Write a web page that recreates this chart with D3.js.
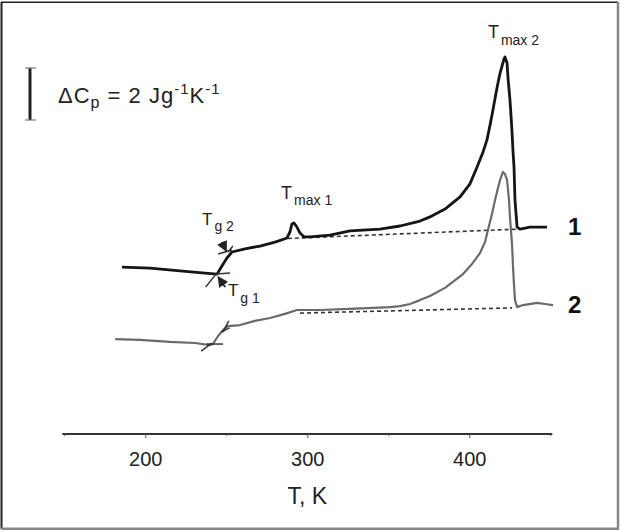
<!DOCTYPE html>
<html>
<head>
<meta charset="utf-8">
<script src="https://cdn.jsdelivr.net/npm/d3@7"></script>
<style>
  html, body { margin: 0; padding: 0; background: #fff; }
  svg { display: block; font-family: "Liberation Sans", Arial, sans-serif; }
</style>
</head>
<body>
<svg id="chart" width="620" height="531"></svg>
<script>
// ---- Data (T in K, ΔCp in J g^-1 K^-1 with arbitrary vertical offset) ----
const curve1T = [185.6, 202.9, 221.4, 236.9, 244.3, 247.3, 250.4, 253.5, 261.5, 270.8, 280.1, 287.5,
  289.3, 290.5, 291.7, 293.6, 295.5, 298.0, 301.7, 314.0, 326.4, 344.9, 357.2, 369.6, 375.7, 385.0, 394.3,
  400.4, 404.8, 408.5, 410.9, 412.8, 414.6, 416.5, 417.7, 419.0, 420.2, 421.4, 422.0, 423.3, 423.9,
  425.1, 425.8, 426.4, 427.0, 427.6, 428.2, 429.5, 431.3, 437.5, 448.0];
const curve1Cp = [6.42, 6.38, 6.27, 6.19, 6.15, 6.46, 6.77, 7.00, 7.12, 7.23, 7.38, 7.54,
  7.77, 8.08, 8.12, 7.96, 7.73, 7.58, 7.58, 7.65, 7.81, 7.88, 8.00, 8.19, 8.35, 8.65, 9.12,
  9.62, 10.27, 10.85, 11.31, 11.88, 12.46, 13.12, 13.50, 13.88, 14.15, 14.42, 14.50, 14.27, 13.69,
  12.85, 12.20, 11.58, 10.85, 10.27, 9.00, 7.96, 7.88, 7.96, 7.96];

const curve2T = [181.4, 196.7, 215.2, 230.7, 239.9, 241.8, 244.9, 248.6, 251.0, 258.5, 267.7, 277.0,
  286.2, 293.6, 307.8, 326.4, 351.1, 357.2, 363.4, 369.6, 375.7, 385.0, 396.1, 401.7, 406.6, 409.7,
  411.5, 414.0, 415.9, 417.7, 419.0, 420.8, 422.0, 423.3, 424.5, 425.1, 426.4, 427.0, 427.6, 428.2,
  429.5, 433.2, 441.8, 446.7, 451.7];
const curve2Cp = [3.65, 3.62, 3.54, 3.50, 3.42, 3.46, 3.77, 4.04, 4.15, 4.19, 4.35, 4.46,
  4.62, 4.77, 4.77, 4.81, 4.88, 4.92, 5.00, 5.15, 5.31, 5.62, 6.15, 6.54, 6.96, 7.38,
  7.85, 8.46, 9.00, 9.46, 9.77, 10.08, 10.00, 9.77, 9.00, 8.35, 7.27, 6.42, 5.73, 5.15,
  4.88, 4.96, 5.04, 5.00, 4.96];

// dashed baselines [T, Cp]
const base1 = [[288.0, 7.52], [429.5, 7.88]];
const base2 = [[295.5, 4.65], [426.4, 4.85]];

// tangent construction segments [[T1,Cp1],[T2,Cp2]]
const tangents = [
  [[237.2, 5.65], [243.7, 6.15]],
  [[243.7, 6.15], [252.3, 6.19]],
  [[251.0, 7.00], [254.1, 7.23]],
  [[245.0, 6.92], [253.5, 7.08]],
  [[234.5, 3.19], [241.2, 3.50]],
  [[238.0, 3.46], [248.0, 3.46]],
  [[246.8, 3.92], [252.0, 4.08]],
  [[248.0, 3.92], [251.5, 4.35]]
];
// arrows [[from],[to]]
const arrows = [
  [[247.3, 7.38], [250.0, 7.04]],
  [[249.3, 5.65], [245.0, 6.04]]
];

const xTicks = [150, 200, 250, 300, 350, 400, 450];
const xTickLabels = ["", "200", "", "300", "", "400", ""];
const xTitle = "T, K";
const scaleBarCp = 2;

// ---- Scales ----
const svg = d3.select("#chart");
const x = d3.scaleLinear().domain([150, 450]).range([64.3, 550.3]);
const y = d3.scaleLinear().domain([0, 16]).range([434, 18]);

// frame
svg.append("line").attr("x1", 1.5).attr("y1", 2).attr("x2", 1.5).attr("y2", 529).attr("stroke", "#222").attr("stroke-width", 2);
svg.append("line").attr("x1", 1).attr("y1", 2.2).attr("x2", 618).attr("y2", 2.2).attr("stroke", "#222").attr("stroke-width", 1.6);
svg.append("line").attr("x1", 618).attr("y1", 2).attr("x2", 618).attr("y2", 529).attr("stroke", "#888").attr("stroke-width", 2.5);
svg.append("line").attr("x1", 1).attr("y1", 528.8).attr("x2", 619).attr("y2", 528.8).attr("stroke", "#888").attr("stroke-width", 2.5);

// ---- Axis ----
const axis = d3.axisBottom(x)
  .tickValues(xTicks)
  .tickFormat((d, i) => xTickLabels[i])
  .tickSize(4)
  .tickSizeOuter(0)
  .tickPadding(14);
const gAx = svg.append("g").attr("transform", `translate(0,${y(0)})`).call(axis);
gAx.select(".domain").attr("stroke", "#333").attr("stroke-width", 2).attr("d", `M${x(150) - 2},0H${x(450) + 2}`);
gAx.selectAll(".tick line").attr("stroke", "#555").attr("stroke-width", 1)
  .attr("y2", (d, i) => xTickLabels[i] ? 4 : 2);
gAx.selectAll(".tick text").attr("font-size", 20).attr("fill", "#222")
  .attr("font-family", "Liberation Sans, Arial, sans-serif");
svg.append("text").attr("x", x(300)).attr("y", 504).attr("text-anchor", "middle")
  .attr("font-size", 23).attr("fill", "#222").text(xTitle);

// ---- Curves ----
const line = d3.line().x(d => x(d[0])).y(d => y(d[1])).curve(d3.curveLinear);
const c1 = curve1T.map((t, i) => [t, curve1Cp[i]]);
const c2 = curve2T.map((t, i) => [t, curve2Cp[i]]);

svg.append("path").datum(base1).attr("d", line).attr("fill", "none")
  .attr("stroke", "#333").attr("stroke-width", 1.6).attr("stroke-dasharray", "4,3");
svg.append("path").datum(base2).attr("d", line).attr("fill", "none")
  .attr("stroke", "#333").attr("stroke-width", 1.6).attr("stroke-dasharray", "4,3");

svg.append("path").datum(c2).attr("d", line).attr("fill", "none")
  .attr("stroke", "#6a6a6a").attr("stroke-width", 2.2).attr("stroke-linejoin", "round");
svg.append("path").datum(c1).attr("d", line).attr("fill", "none")
  .attr("stroke", "#151515").attr("stroke-width", 2.8).attr("stroke-linejoin", "round");

tangents.forEach(s => {
  svg.append("path").datum(s).attr("d", line).attr("stroke", "#333").attr("stroke-width", 1.5).attr("fill", "none");
});

svg.append("defs").append("marker").attr("id", "ah").attr("viewBox", "0 0 10 10")
  .attr("refX", 9).attr("refY", 5).attr("markerWidth", 6).attr("markerHeight", 6).attr("orient", "auto")
  .append("path").attr("d", "M0,0L10,5L0,10z").attr("fill", "#222");
arrows.forEach(a => {
  svg.append("path").datum(a).attr("d", line).attr("stroke", "#222").attr("stroke-width", 1.8)
    .attr("fill", "none").attr("marker-end", "url(#ah)");
});

// ---- Annotations ----
function subLabel(T, Cp, main, sub, mainSize, subSize, dy) {
  const t = svg.append("text").attr("x", x(T)).attr("y", y(Cp)).attr("fill", "#222");
  t.append("tspan").attr("font-size", mainSize).text(main);
  t.append("tspan").attr("font-size", subSize).attr("dy", dy).attr("dx", 2).text(sub);
}
subLabel(283.8, 9.04, "T", "max 1", 18, 14, 6);
subLabel(411.5, 15.23, "T", "max 2", 18, 14, 7);
subLabel(235.0, 8.04, "T", "g 2", 17, 14, 6);
subLabel(251.0, 5.31, "T", "g 1", 17, 14, 7);

svg.append("text").attr("x", x(460.9)).attr("y", y(7.65)).attr("font-size", 24).attr("font-weight", "bold")
  .attr("fill", "#111").text("1");
svg.append("text").attr("x", x(460.9)).attr("y", y(4.65)).attr("font-size", 24).attr("font-weight", "bold")
  .attr("fill", "#111").text("2");

// scale bar: 2 J g^-1 K^-1
const sbTop = 68;
const sbBot = sbTop + (y(0) - y(scaleBarCp));
svg.append("line").attr("x1", 30).attr("x2", 30).attr("y1", sbTop).attr("y2", sbBot)
  .attr("stroke", "#222").attr("stroke-width", 3);
[sbTop, sbBot].forEach(v => svg.append("line").attr("x1", 25).attr("x2", 36).attr("y1", v).attr("y2", v)
  .attr("stroke", "#777").attr("stroke-width", 1.2));
const lab = svg.append("text").attr("x", 58).attr("y", 103).attr("font-size", 22)
  .attr("letter-spacing", 1).attr("fill", "#222");
lab.append("tspan").text("ΔC");
lab.append("tspan").attr("font-size", 16).attr("dy", 5).text("p");
lab.append("tspan").attr("dy", -5).text(" = " + scaleBarCp + " Jg");
lab.append("tspan").attr("font-size", 15).attr("dy", -9).text("-1");
lab.append("tspan").attr("dy", 9).text("K");
lab.append("tspan").attr("font-size", 15).attr("dy", -9).text("-1");
</script>
</body>
</html>
